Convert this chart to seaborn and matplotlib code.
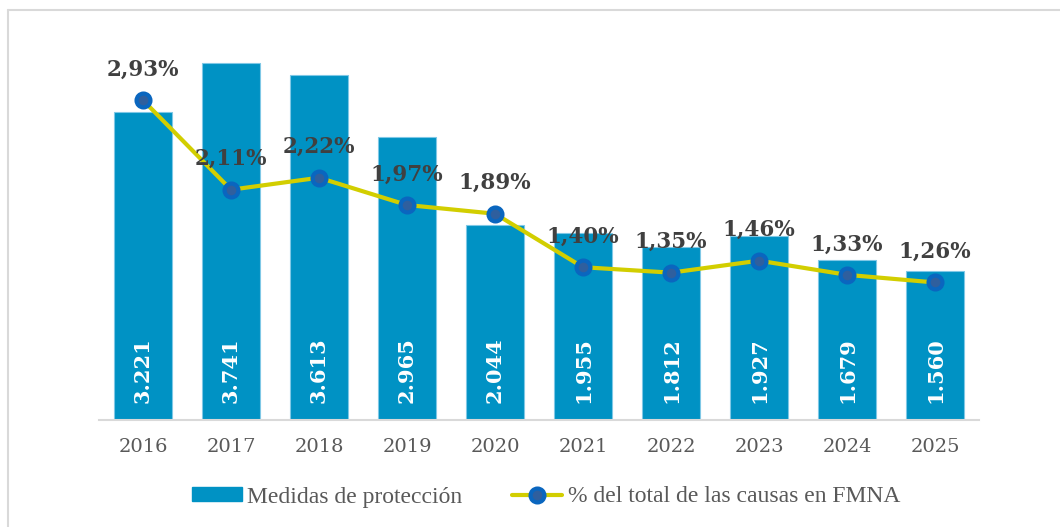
import matplotlib
matplotlib.use("Agg")
import matplotlib.pyplot as plt
import matplotlib.transforms as mtransforms
from matplotlib.lines import Line2D
from matplotlib.patches import Patch
import seaborn as sns
import pandas as pd

# data
years = ["2016", "2017", "2018", "2019", "2020", "2021", "2022", "2023", "2024", "2025"]
medidas = [3221, 3741, 3613, 2965, 2044, 1955, 1812, 1927, 1679, 1560]
pct_fmna = [2.93, 2.11, 2.22, 1.97, 1.89, 1.40, 1.35, 1.46, 1.33, 1.26]

bar_color = "#0092C4"
line_color = "#D2CE00"
dot_color = "#0A66BF"
label_color = "#404040"
tick_color = "#595959"

sns.set_theme(style="white")
plt.rcParams["font.family"] = ["DejaVu Serif", "Liberation Serif"]

df = pd.DataFrame({"year": years, "medidas": medidas, "pct": pct_fmna})

fig = plt.figure(figsize=(10.6, 5.27), dpi=100)
ax = fig.add_axes([99 / 1060, 107 / 527, 880 / 1060, 382 / 527])

sns.barplot(data=df, x="year", y="medidas", color=bar_color, saturation=1,
            width=0.66, edgecolor="#7FC8E6", linewidth=0.8, ax=ax)
ax.set_ylim(0, 4000)
ax.set_xlim(-0.5, len(years) - 0.5)
ax.set_xlabel("")
ax.set_ylabel("")
ax.set_yticks([])
for s in ["top", "right", "left"]:
    ax.spines[s].set_visible(False)
ax.spines["bottom"].set_color("#D9D9D9")
ax.spines["bottom"].set_linewidth(1.5)
ax.tick_params(axis="x", length=0, pad=13, labelsize=14, labelcolor=tick_color)

# values inside bars
trans = mtransforms.blended_transform_factory(ax.transData, ax.transAxes)
for i, v in enumerate(medidas):
    txt = f"{v:,}".replace(",", ".")
    ax.text(i, 0.045, txt, transform=trans, rotation=90, ha="center", va="bottom",
            color="white", fontsize=15, fontweight="bold")

# percentage line on secondary axis
ax2 = ax.twinx()
ax2.plot(range(len(years)), pct_fmna, color=line_color, linewidth=3,
         marker="o", markersize=10, markerfacecolor="#2F5F9E",
         markeredgecolor=dot_color, markeredgewidth=3, zorder=3)
ax2.set_ylim(0, 3.5)
ax2.set_yticks([])
for s in ["top", "right", "left", "bottom"]:
    ax2.spines[s].set_visible(False)

for i, p in enumerate(pct_fmna):
    ax2.annotate(f"{p:.2f}%".replace(".", ","), (i, p), xytext=(0, 14),
                 textcoords="offset points", ha="center", va="bottom",
                 fontsize=15.5, fontweight="bold", color=label_color)

# legend
handles = [
    Patch(facecolor=bar_color, edgecolor=bar_color, label="Medidas de protección"),
    Line2D([0], [0], color=line_color, linewidth=3, marker="o", markersize=10,
           markerfacecolor="#2F5F9E", markeredgecolor=dot_color, markeredgewidth=3,
           label="% del total de las causas en FMNA"),
]
leg = fig.legend(handles=handles, loc="center", bbox_to_anchor=(546 / 1060, 1 - 497 / 527),
                 ncol=2, frameon=False, labelcolor=tick_color,
                 prop={"family": "Liberation Serif", "size": 17},
                 handlelength=2.1, handleheight=0.55, columnspacing=2.1, handletextpad=0.25,
                 borderpad=0)

# outer frame
fig.add_artist(Line2D([8 / 1060, 8 / 1060], [0, 1 - 10 / 527], color="#D9D9D9", linewidth=1.5))
fig.add_artist(Line2D([8 / 1060, 1], [1 - 10 / 527, 1 - 10 / 527], color="#D9D9D9", linewidth=1.5))

fig.savefig("out.png", dpi=100, facecolor="white")
